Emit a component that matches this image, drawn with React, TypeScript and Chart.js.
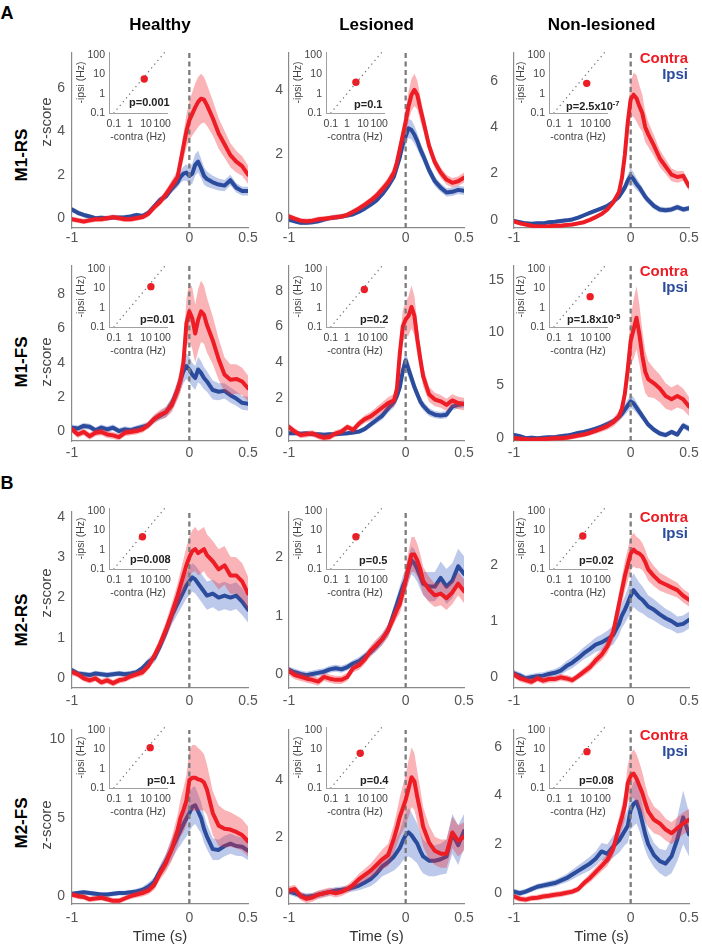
import React, { useEffect, useRef } from "react";
import { Chart, registerables } from "chart.js";

Chart.register(...registerables);
const FONT = "'Liberation Sans', Arial, Helvetica, sans-serif";
Chart.defaults.font.family = FONT;

// ---------- time axis (s) ----------
const TIME = [-1, -0.95, -0.9, -0.85, -0.8, -0.75, -0.7, -0.65, -0.6, -0.55,
  -0.5, -0.45, -0.4, -0.35, -0.3, -0.25, -0.2, -0.15, -0.1,
  -0.075, -0.05, -0.025, 0, 0.025, 0.05, 0.075, 0.1, 0.125, 0.15,
  0.2, 0.25, 0.3, 0.35, 0.4, 0.45, 0.5];

// ---------- M1-RS ----------
const H_M1RS_C = [-0.05, -0.1, -0.15, -0.1, -0.05, -0.05, 0, 0.05, 0, -0.05, -0.05, 0, 0.05, 0.2, 0.5, 0.75, 1.1, 1.5, 1.9, 2.6, 3.3, 4.0, 4.5, 4.8, 5.1, 5.35, 5.5, 5.45, 5.2, 4.6, 3.9, 3.4, 2.9, 2.6, 2.4, 2.0];
const H_M1RS_CS = [0.12, 0.12, 0.12, 0.12, 0.12, 0.12, 0.12, 0.12, 0.12, 0.12, 0.12, 0.12, 0.12, 0.14, 0.16, 0.18, 0.2, 0.25, 0.32, 0.45, 0.6, 0.75, 0.9, 1.0, 1.1, 1.15, 1.15, 1.05, 0.95, 0.8, 0.7, 0.62, 0.55, 0.5, 0.45, 0.42];
const H_M1RS_I = [0.4, 0.25, 0.15, 0.08, 0, 0.02, 0, 0.03, 0.03, 0.05, 0.08, 0.15, 0.1, 0.25, 0.55, 0.85, 1.0, 1.35, 1.65, 1.9, 2.05, 2.1, 1.95, 2.05, 2.45, 2.6, 2.3, 1.95, 1.8, 1.65, 1.55, 1.5, 1.75, 1.4, 1.25, 1.25];
const H_M1RS_IS = [0.12, 0.12, 0.1, 0.1, 0.1, 0.1, 0.1, 0.1, 0.1, 0.1, 0.1, 0.1, 0.1, 0.1, 0.12, 0.14, 0.16, 0.18, 0.22, 0.28, 0.33, 0.38, 0.42, 0.46, 0.5, 0.5, 0.45, 0.4, 0.35, 0.3, 0.28, 0.26, 0.25, 0.22, 0.2, 0.2];

const L_M1RS_C = [0.05, -0.02, -0.08, -0.1, -0.08, -0.04, -0.02, 0, 0.03, 0.05, 0.1, 0.2, 0.3, 0.42, 0.55, 0.7, 0.9, 1.12, 1.42, 1.74, 2.16, 2.58, 3.0, 3.5, 3.85, 4.0, 3.84, 3.42, 3.05, 2.26, 1.74, 1.42, 1.2, 1.1, 1.15, 1.26];
const L_M1RS_CS = [0.08, 0.08, 0.08, 0.08, 0.08, 0.08, 0.08, 0.08, 0.08, 0.08, 0.08, 0.08, 0.09, 0.1, 0.1, 0.12, 0.13, 0.15, 0.18, 0.22, 0.27, 0.32, 0.38, 0.45, 0.5, 0.5, 0.45, 0.38, 0.32, 0.22, 0.18, 0.16, 0.15, 0.15, 0.15, 0.16];
const L_M1RS_I = [-0.05, -0.1, -0.15, -0.15, -0.13, -0.1, -0.05, 0, 0.02, 0.05, 0.08, 0.12, 0.2, 0.3, 0.42, 0.55, 0.75, 1.0, 1.3, 1.6, 1.9, 2.3, 2.55, 2.8, 2.75, 2.6, 2.4, 2.15, 1.95, 1.5, 1.15, 0.95, 0.8, 0.82, 0.88, 0.85];
const L_M1RS_IS = [0.07, 0.07, 0.07, 0.07, 0.07, 0.07, 0.07, 0.07, 0.07, 0.07, 0.07, 0.07, 0.07, 0.08, 0.08, 0.09, 0.1, 0.12, 0.14, 0.17, 0.2, 0.24, 0.28, 0.3, 0.3, 0.28, 0.25, 0.22, 0.2, 0.17, 0.15, 0.14, 0.13, 0.13, 0.13, 0.13];

const N_M1RS_C = [-0.07, -0.15, -0.2, -0.25, -0.28, -0.28, -0.27, -0.25, -0.25, -0.22, -0.2, -0.15, -0.1, 0, 0.12, 0.25, 0.45, 0.75, 1.2, 1.8, 2.8, 4.2, 5.2, 5.4, 5.25, 4.9, 4.6, 4.0, 3.7, 3.2, 2.65, 2.3, 1.95, 1.85, 1.9, 1.45];
const N_M1RS_CS = [0.08, 0.08, 0.08, 0.08, 0.08, 0.08, 0.08, 0.08, 0.08, 0.08, 0.08, 0.08, 0.08, 0.08, 0.08, 0.09, 0.1, 0.12, 0.15, 0.2, 0.3, 0.5, 0.75, 0.95, 1.0, 0.9, 0.8, 0.65, 0.55, 0.45, 0.38, 0.32, 0.28, 0.25, 0.22, 0.2];
const N_M1RS_I = [-0.05, -0.1, -0.15, -0.17, -0.15, -0.15, -0.1, -0.08, -0.05, -0.02, 0.02, 0.1, 0.2, 0.3, 0.4, 0.5, 0.6, 0.78, 1.0, 1.2, 1.4, 1.7, 1.9, 1.75, 1.55, 1.4, 1.2, 1.0, 0.85, 0.6, 0.45, 0.42, 0.45, 0.55, 0.45, 0.5];
const N_M1RS_IS = [0.08, 0.08, 0.08, 0.08, 0.08, 0.08, 0.08, 0.08, 0.08, 0.08, 0.08, 0.08, 0.08, 0.08, 0.08, 0.08, 0.09, 0.1, 0.12, 0.15, 0.2, 0.26, 0.32, 0.3, 0.26, 0.22, 0.2, 0.18, 0.16, 0.14, 0.13, 0.12, 0.12, 0.12, 0.12, 0.12];

// ---------- M1-FS ----------
const H_M1FS_C = [0.1, -0.2, -0.05, -0.3, -0.1, -0.05, -0.2, -0.25, -0.35, -0.1, -0.05, 0, 0.1, 0.35, 0.7, 0.95, 1.1, 1.5, 2.4, 3.0, 4.0, 6.3, 7.0, 6.6, 5.7, 6.5, 7.0, 6.8, 6.2, 5.3, 4.2, 3.3, 3.0, 3.05, 2.9, 2.5];
const H_M1FS_CS = [0.2, 0.2, 0.2, 0.2, 0.2, 0.2, 0.2, 0.2, 0.2, 0.2, 0.2, 0.2, 0.2, 0.22, 0.25, 0.28, 0.32, 0.4, 0.55, 0.75, 1.0, 1.4, 1.7, 1.8, 1.7, 1.8, 1.8, 1.7, 1.6, 1.4, 1.2, 1.0, 0.9, 0.85, 0.8, 0.75];
const H_M1FS_I = [0.2, 0.15, 0.3, 0.25, 0.05, 0.2, 0.1, 0.2, 0, 0.1, 0.05, 0.15, 0.25, 0.35, 0.7, 0.9, 1.1, 1.6, 2.4, 3.0, 3.5, 3.8, 3.6, 3.3, 3.1, 3.6, 3.4, 3.1, 2.9, 2.4, 2.3, 2.35, 2.1, 1.9, 1.65, 1.6];
const H_M1FS_IS = [0.18, 0.18, 0.18, 0.18, 0.18, 0.18, 0.18, 0.18, 0.18, 0.18, 0.18, 0.18, 0.18, 0.2, 0.22, 0.25, 0.3, 0.38, 0.5, 0.6, 0.7, 0.75, 0.75, 0.7, 0.7, 0.75, 0.7, 0.65, 0.6, 0.55, 0.5, 0.45, 0.45, 0.42, 0.4, 0.4];

const L_M1FS_C = [0.35, 0.1, -0.1, -0.05, 0, -0.15, -0.25, -0.2, 0, 0.1, 0.35, 0.2, 0.55, 0.8, 0.95, 1.2, 1.45, 1.7, 1.85, 2.5, 4.5, 6.0, 6.4, 6.6, 7.1, 6.6, 5.3, 4.2, 3.2, 2.2, 1.9, 1.8, 1.6, 1.85, 1.7, 1.65];
const L_M1FS_CS = [0.2, 0.18, 0.18, 0.18, 0.18, 0.18, 0.18, 0.18, 0.18, 0.18, 0.18, 0.18, 0.2, 0.22, 0.25, 0.28, 0.3, 0.33, 0.36, 0.45, 0.7, 0.9, 1.0, 1.1, 1.2, 1.1, 0.9, 0.7, 0.55, 0.42, 0.38, 0.36, 0.35, 0.35, 0.35, 0.35];
const L_M1FS_I = [0, 0.02, -0.02, 0, -0.05, -0.05, -0.08, -0.05, -0.05, -0.02, 0, 0.05, 0.1, 0.25, 0.5, 0.75, 1.0, 1.4, 1.75, 2.1, 2.6, 3.5, 4.1, 3.6, 3.1, 2.6, 2.2, 1.8, 1.55, 1.2, 1.05, 1.0, 1.05, 1.5, 1.6, 1.65];
const L_M1FS_IS = [0.12, 0.12, 0.12, 0.12, 0.12, 0.12, 0.12, 0.12, 0.12, 0.12, 0.12, 0.12, 0.13, 0.15, 0.17, 0.2, 0.22, 0.25, 0.28, 0.32, 0.38, 0.45, 0.5, 0.45, 0.4, 0.35, 0.3, 0.28, 0.25, 0.22, 0.2, 0.2, 0.2, 0.2, 0.2, 0.2];

const N_M1FS_C = [0, -0.05, -0.1, -0.15, -0.1, -0.1, -0.05, 0, 0, 0.05, 0.15, 0.25, 0.35, 0.5, 0.7, 0.9, 1.15, 1.5, 2.1, 2.8, 4.2, 6.5, 9.2, 10.3, 11.4, 9.8, 7.8, 6.3, 5.6, 5.2, 4.7, 4.0, 3.7, 4.0, 3.7, 3.0];
const N_M1FS_CS = [0.25, 0.25, 0.25, 0.25, 0.25, 0.25, 0.25, 0.25, 0.25, 0.25, 0.25, 0.25, 0.25, 0.25, 0.28, 0.3, 0.35, 0.4, 0.5, 0.7, 1.0, 1.5, 2.2, 2.8, 3.0, 2.8, 2.4, 2.0, 1.7, 1.4, 1.3, 1.2, 1.1, 1.1, 1.0, 0.9];
const N_M1FS_I = [0.3, 0.2, 0, 0.05, 0, 0.05, 0.1, 0.1, 0.2, 0.25, 0.35, 0.5, 0.6, 0.75, 0.9, 1.1, 1.35, 1.6, 2.0, 2.3, 2.7, 3.1, 3.5, 3.3, 2.9, 2.5, 2.1, 1.7, 1.3, 0.8, 0.45, 0.3, 0.6, 0.35, 1.2, 0.9];
const N_M1FS_IS = [0.2, 0.2, 0.2, 0.2, 0.2, 0.2, 0.2, 0.2, 0.2, 0.2, 0.2, 0.2, 0.2, 0.2, 0.22, 0.24, 0.26, 0.3, 0.35, 0.4, 0.5, 0.6, 0.65, 0.6, 0.5, 0.45, 0.4, 0.35, 0.3, 0.25, 0.25, 0.25, 0.25, 0.25, 0.3, 0.3];

// ---------- M2-RS ----------
const H_M2RS_C = [0.15, 0.1, 0, -0.05, 0, -0.1, -0.05, -0.12, -0.05, -0.02, 0.05, 0.1, 0.15, 0.3, 0.55, 0.85, 1.2, 1.6, 2.05, 2.3, 2.55, 2.8, 3.0, 3.15, 3.2, 3.1, 3.15, 3.2, 3.05, 2.9, 2.7, 2.8, 2.55, 2.55, 2.4, 2.1];
const H_M2RS_CS = [0.08, 0.08, 0.08, 0.08, 0.08, 0.08, 0.08, 0.08, 0.08, 0.08, 0.08, 0.08, 0.09, 0.1, 0.12, 0.15, 0.2, 0.25, 0.3, 0.35, 0.4, 0.45, 0.5, 0.52, 0.55, 0.55, 0.55, 0.55, 0.52, 0.5, 0.5, 0.48, 0.46, 0.45, 0.45, 0.42];
const H_M2RS_I = [0.2, 0.12, 0.1, 0.08, 0.12, 0.1, 0.08, 0.1, 0.12, 0.1, 0.12, 0.15, 0.25, 0.4, 0.5, 0.8, 1.15, 1.55, 1.85, 2.0, 2.15, 2.3, 2.4, 2.5, 2.45, 2.35, 2.25, 2.15, 2.05, 2.1, 2.0, 2.05, 2.0, 2.05, 1.9, 1.7];
const H_M2RS_IS = [0.07, 0.07, 0.07, 0.07, 0.07, 0.07, 0.07, 0.07, 0.07, 0.07, 0.07, 0.07, 0.08, 0.1, 0.12, 0.15, 0.18, 0.22, 0.26, 0.28, 0.3, 0.32, 0.34, 0.35, 0.35, 0.35, 0.35, 0.35, 0.35, 0.34, 0.34, 0.34, 0.33, 0.33, 0.33, 0.32];

const L_M2RS_C = [0.05, -0.02, -0.05, -0.08, -0.1, -0.13, -0.05, -0.08, -0.1, -0.1, -0.05, 0.1, 0.15, 0.25, 0.4, 0.5, 0.6, 0.75, 0.98, 1.1, 1.2, 1.4, 1.6, 1.85, 2.05, 2.05, 1.95, 1.8, 1.6, 1.45, 1.35, 1.38, 1.3, 1.4, 1.55, 1.42];
const L_M2RS_CS = [0.07, 0.07, 0.07, 0.07, 0.07, 0.07, 0.07, 0.07, 0.07, 0.07, 0.07, 0.07, 0.08, 0.08, 0.09, 0.1, 0.1, 0.11, 0.12, 0.14, 0.16, 0.18, 0.22, 0.26, 0.3, 0.3, 0.28, 0.26, 0.24, 0.22, 0.2, 0.2, 0.2, 0.2, 0.2, 0.2];
const L_M2RS_I = [0.07, 0.03, 0, -0.02, 0, 0.02, 0.04, 0.08, 0.1, 0.08, 0.12, 0.18, 0.22, 0.3, 0.38, 0.48, 0.6, 0.75, 1.05, 1.2, 1.35, 1.5, 1.62, 1.8, 1.95, 1.9, 1.8, 1.68, 1.55, 1.5, 1.5, 1.65, 1.5, 1.6, 1.85, 1.72];
const L_M2RS_IS = [0.06, 0.06, 0.06, 0.06, 0.06, 0.06, 0.06, 0.06, 0.06, 0.06, 0.06, 0.06, 0.07, 0.07, 0.08, 0.09, 0.1, 0.11, 0.12, 0.14, 0.16, 0.18, 0.2, 0.22, 0.24, 0.24, 0.22, 0.22, 0.2, 0.25, 0.25, 0.28, 0.3, 0.3, 0.3, 0.3];

const N_M2RS_C = [0.05, -0.02, -0.05, -0.08, -0.02, -0.06, -0.03, -0.03, 0, -0.02, -0.05, 0.02, 0.1, 0.18, 0.3, 0.4, 0.55, 0.8, 1.3, 1.55, 1.8, 2.0, 2.2, 2.27, 2.22, 2.2, 2.15, 2.05, 1.92, 1.8, 1.7, 1.65, 1.6, 1.55, 1.45, 1.38];
const N_M2RS_CS = [0.06, 0.06, 0.06, 0.06, 0.06, 0.06, 0.06, 0.06, 0.06, 0.06, 0.06, 0.06, 0.07, 0.08, 0.09, 0.1, 0.12, 0.15, 0.2, 0.23, 0.26, 0.28, 0.3, 0.3, 0.28, 0.26, 0.24, 0.22, 0.2, 0.18, 0.16, 0.15, 0.14, 0.13, 0.12, 0.12];
const N_M2RS_I = [0.07, 0.03, -0.02, 0, 0.02, 0.03, 0.06, 0.08, 0.12, 0.2, 0.26, 0.34, 0.43, 0.5, 0.58, 0.62, 0.68, 0.75, 0.95, 1.1, 1.2, 1.32, 1.45, 1.55, 1.48, 1.42, 1.38, 1.32, 1.26, 1.2, 1.12, 1.05, 1.0, 0.93, 0.95, 1.02];
const N_M2RS_IS = [0.06, 0.06, 0.06, 0.06, 0.06, 0.06, 0.06, 0.07, 0.08, 0.09, 0.1, 0.1, 0.11, 0.12, 0.13, 0.14, 0.15, 0.17, 0.2, 0.22, 0.24, 0.27, 0.3, 0.3, 0.28, 0.26, 0.24, 0.22, 0.2, 0.19, 0.18, 0.17, 0.16, 0.15, 0.15, 0.15];

// ---------- M2-FS ----------
const H_M2FS_C = [0.1, 0, -0.05, -0.2, -0.15, -0.1, -0.2, -0.3, -0.3, -0.15, 0, 0.1, 0.2, 0.35, 0.7, 1.45, 2.1, 3.0, 4.2, 5.0, 5.5, 6.1, 7.4, 7.55, 7.55, 7.45, 7.4, 7.25, 6.8, 5.3, 4.5, 4.3, 4.25, 4.1, 3.9, 3.5];
const H_M2FS_CS = [0.18, 0.18, 0.18, 0.18, 0.18, 0.18, 0.18, 0.18, 0.18, 0.18, 0.18, 0.2, 0.22, 0.25, 0.3, 0.4, 0.55, 0.75, 1.0, 1.2, 1.4, 1.6, 1.9, 2.1, 2.1, 2.0, 1.9, 1.8, 1.6, 1.4, 1.3, 1.2, 1.1, 1.05, 1.0, 0.95];
const H_M2FS_I = [0.15, 0.2, 0.25, 0.2, 0.15, 0.1, 0.1, 0.15, 0.2, 0.2, 0.25, 0.3, 0.4, 0.6, 0.9, 1.6, 2.2, 3.0, 3.8, 4.2, 4.6, 4.95, 5.3, 5.7, 5.8, 5.4, 5.0, 4.3, 3.8, 3.0, 2.95, 3.2, 3.35, 3.2, 3.15, 2.9];
const H_M2FS_IS = [0.15, 0.15, 0.15, 0.15, 0.15, 0.15, 0.15, 0.15, 0.15, 0.15, 0.15, 0.17, 0.2, 0.25, 0.3, 0.38, 0.5, 0.65, 0.8, 0.95, 1.05, 1.15, 1.2, 1.25, 1.2, 1.1, 1.0, 0.9, 0.8, 0.7, 0.65, 0.65, 0.65, 0.62, 0.6, 0.6];

const L_M2FS_C = [0.1, 0.15, -0.1, -0.2, -0.15, -0.05, 0, 0.05, 0, 0.05, 0.15, 0.3, 0.5, 0.65, 0.8, 1.0, 1.2, 1.35, 1.95, 2.3, 2.7, 3.0, 3.3, 3.7, 4.1, 3.95, 3.4, 2.9, 2.35, 1.8, 1.5, 1.4, 1.4, 2.15, 1.85, 2.0];
const L_M2FS_CS = [0.15, 0.15, 0.15, 0.15, 0.15, 0.15, 0.15, 0.15, 0.15, 0.15, 0.15, 0.17, 0.2, 0.22, 0.25, 0.3, 0.35, 0.4, 0.5, 0.6, 0.7, 0.8, 0.9, 1.0, 1.05, 1.0, 0.9, 0.8, 0.7, 0.6, 0.5, 0.5, 0.5, 0.55, 0.55, 0.5];
const L_M2FS_I = [0.07, 0, -0.08, -0.12, -0.1, -0.05, 0, 0.05, 0.1, 0.12, 0.15, 0.2, 0.27, 0.38, 0.5, 0.7, 0.95, 1.1, 1.3, 1.45, 1.6, 1.85, 2.05, 2.15, 2.05, 1.9, 1.75, 1.5, 1.3, 1.15, 1.15, 1.2, 1.3, 2.1, 1.7, 2.2];
const L_M2FS_IS = [0.12, 0.12, 0.12, 0.12, 0.12, 0.12, 0.12, 0.12, 0.12, 0.12, 0.12, 0.14, 0.16, 0.2, 0.25, 0.3, 0.35, 0.4, 0.5, 0.55, 0.6, 0.7, 0.8, 0.85, 0.8, 0.75, 0.7, 0.65, 0.6, 0.55, 0.55, 0.55, 0.6, 0.7, 0.7, 0.6];

const N_M2FS_C = [-0.15, -0.25, -0.28, -0.22, -0.2, -0.15, -0.12, -0.08, -0.05, 0, 0.05, 0.15, 0.4, 0.6, 0.85, 1.1, 1.35, 1.8, 2.7, 3.1, 3.6, 4.5, 4.8, 4.9, 4.7, 4.4, 4.1, 3.7, 3.35, 3.0, 2.85, 2.6, 2.45, 2.65, 2.85, 3.0];
const N_M2FS_CS = [0.12, 0.12, 0.12, 0.12, 0.12, 0.12, 0.12, 0.12, 0.12, 0.12, 0.12, 0.13, 0.15, 0.18, 0.2, 0.22, 0.25, 0.3, 0.4, 0.5, 0.6, 0.75, 0.9, 1.0, 1.0, 0.95, 0.85, 0.75, 0.65, 0.55, 0.5, 0.45, 0.45, 0.45, 0.45, 0.45];
const N_M2FS_I = [0.05, -0.02, 0.05, 0.15, 0.25, 0.3, 0.35, 0.4, 0.5, 0.6, 0.75, 0.9, 1.05, 1.2, 1.4, 1.7, 1.6, 1.9, 2.15, 2.35, 2.55, 2.75, 3.4, 3.65, 3.75, 3.4, 2.9, 2.4, 2.0, 1.55, 1.3, 1.2, 1.5, 2.2, 3.1, 2.4];
const N_M2FS_IS = [0.12, 0.12, 0.12, 0.12, 0.12, 0.12, 0.13, 0.14, 0.15, 0.17, 0.2, 0.22, 0.25, 0.28, 0.3, 0.35, 0.4, 0.45, 0.5, 0.55, 0.6, 0.7, 0.8, 0.9, 0.9, 0.85, 0.75, 0.65, 0.55, 0.5, 0.5, 0.55, 0.7, 0.9, 1.1, 0.9];

// ---------- per-panel lists (row-major: M1-RS, M1-FS, M2-RS, M2-FS × Healthy, Lesioned, Non-lesioned) ----------
const CONTRA = [H_M1RS_C, L_M1RS_C, N_M1RS_C, H_M1FS_C, L_M1FS_C, N_M1FS_C, H_M2RS_C, L_M2RS_C, N_M2RS_C, H_M2FS_C, L_M2FS_C, N_M2FS_C];
const CONTRA_SEM = [H_M1RS_CS, L_M1RS_CS, N_M1RS_CS, H_M1FS_CS, L_M1FS_CS, N_M1FS_CS, H_M2RS_CS, L_M2RS_CS, N_M2RS_CS, H_M2FS_CS, L_M2FS_CS, N_M2FS_CS];
const IPSI = [H_M1RS_I, L_M1RS_I, N_M1RS_I, H_M1FS_I, L_M1FS_I, N_M1FS_I, H_M2RS_I, L_M2RS_I, N_M2RS_I, H_M2FS_I, L_M2FS_I, N_M2FS_I];
const IPSI_SEM = [H_M1RS_IS, L_M1RS_IS, N_M1RS_IS, H_M1FS_IS, L_M1FS_IS, N_M1FS_IS, H_M2RS_IS, L_M2RS_IS, N_M2RS_IS, H_M2FS_IS, L_M2FS_IS, N_M2FS_IS];

const Y_MIN = [-0.45, -0.31, -0.35, -0.58, -0.43, -0.26, -0.24, -0.24, -0.19, -0.5, -0.38, -0.46];
const Y_MAX = [7.6, 5.15, 7.2, 9.65, 9.4, 16.3, 4.12, 2.78, 2.94, 10.6, 5.77, 6.69];
const Y_TICKS = [[0, 2, 4, 6], [0, 2, 4], [0, 2, 4, 6], [0, 2, 4, 6, 8], [0, 2, 4, 6, 8], [0, 5, 10, 15],
  [0, 1, 2, 3, 4], [0, 1, 2], [0, 1, 2], [0, 5, 10], [0, 2, 4], [0, 2, 4, 6]];
const X_TICKS = [-1, 0, 0.5];

// inset: mean firing rate contra vs ipsi (Hz)
const INSET_CONTRA = [7.7, 3.6, 11, 20, 12, 18, 6, 3.6, 6.3, 18, 6.7, 11.4];
const INSET_IPSI = [5.9, 4.0, 3.5, 12.6, 9, 3.8, 4.8, 4.8, 5.2, 12.6, 6.4, 7.8];
const INSET_TICKS = [0.1, 1, 10, 100];
const INSET_X_RANGE = [0.05, 200];
const INSET_Y_RANGE = [0.1, 150];
const P_TEXT = ["p=0.001", "p=0.1", "p=2.5x10", "p=0.01", "p=0.2", "p=1.8x10", "p=0.008", "p=0.5", "p=0.02", "p=0.1", "p=0.4", "p=0.08"];
const P_EXP = ["", "", "-7", "", "", "-5", "", "", "", "", "", ""];

const COLUMN_TITLES = ["Healthy", "Lesioned", "Non-lesioned"];
const ROW_TITLES = ["M1-RS", "M1-FS", "M2-RS", "M2-FS"];

// ---------- styling / layout ----------
const RED = "#ee1d25";
const RED_BAND = "rgba(240, 45, 55, 0.36)";
const BLUE = "#2b4c9c";
const BLUE_BAND = "rgba(55, 90, 190, 0.33)";
const AXIS = "#8a8a8a";
const TICK = "#555555";

const COL_LEFT = [72, 289, 514];
const COL_RIGHT = [248, 464, 689];
const ROW_TOP = [53, 266, 512, 730];
const ROW_BOTTOM = [228, 441, 688, 904];
const X_LABEL_PAD = [1.5, 3.5, 4.5, 6];
const Y_LABEL_PAD = [[7, 6, 16], [7, 6, 10], [7, 6, 16], [7, 6, 12]];
const INSET_LEFT = [109, 326, 549];
const INSET_TOP = [52, 266, 508, 727];
const INSET_W = 58;
const INSET_H = 61;
const P_LEFT = [129, 354, 566, 140, 360, 567, 130, 359, 579, 147, 360, 579];
const P_Y = [102, 104, 106, 319, 319, 319, 559, 560, 560, 780, 780, 780];
const ROW_LABEL_Y = [155, 362, 620, 823];
const ZSCORE_Y = [122, 362, 593, 825];

function zeroPad(s: any) {
  s.paddingLeft = 0; s.paddingRight = 0; s.paddingTop = 0; s.paddingBottom = 0;
}

function MainPanel({ idx }: { idx: number }) {
  const ref = useRef<HTMLCanvasElement>(null);
  const r = Math.floor(idx / 3), c = idx % 3;
  const left = COL_LEFT[c], top = ROW_TOP[r];
  const w = COL_RIGHT[c] - left, h = ROW_BOTTOM[r] - top;
  const PL = 40, PT = 10, PR = 14, PB = 30;
  const W = PL + w + PR, H = PT + h + PB;

  useEffect(() => {
    const line = (m: number[]) => TIME.map((t, i) => ({ x: t, y: m[i] }));
    const band = (m: number[], s: number[], k: number) => TIME.map((t, i) => ({ x: t, y: m[i] + k * s[i] }));
    const clear = "rgba(0,0,0,0)";
    const chart = new Chart(ref.current as HTMLCanvasElement, {
      type: "line",
      data: {
        datasets: [
          { data: band(IPSI[idx], IPSI_SEM[idx], -1), borderColor: clear, borderWidth: 1, pointRadius: 0, fill: false, order: 7 },
          { data: band(IPSI[idx], IPSI_SEM[idx], 1), borderColor: clear, borderWidth: 1, pointRadius: 0, fill: "-1", backgroundColor: BLUE_BAND, order: 6 },
          { data: line(IPSI[idx]), borderColor: BLUE, borderWidth: 4, pointRadius: 0, fill: false, order: 5, borderJoinStyle: "round", borderCapStyle: "round" },
          { data: band(CONTRA[idx], CONTRA_SEM[idx], -1), borderColor: clear, borderWidth: 1, pointRadius: 0, fill: false, order: 4 },
          { data: band(CONTRA[idx], CONTRA_SEM[idx], 1), borderColor: clear, borderWidth: 1, pointRadius: 0, fill: "-1", backgroundColor: RED_BAND, order: 3 },
          { data: [{ x: 0, y: Y_MIN[idx] }, { x: 0, y: Y_MAX[idx] }], borderColor: "#7c7c7c", borderWidth: 2.3, borderDash: [5, 3.5], pointRadius: 0, fill: false, order: 2 },
          { data: line(CONTRA[idx]), borderColor: RED, borderWidth: 4, pointRadius: 0, fill: false, order: 1, borderJoinStyle: "round", borderCapStyle: "round" },
        ] as any,
      },
      options: {
        responsive: false,
        animation: false,
        events: [],
        layout: { padding: { left: 0, top: PT, right: PR, bottom: 0 } },
        plugins: { legend: { display: false }, tooltip: { enabled: false } },
        elements: { line: { tension: 0 } },
        scales: {
          x: {
            type: "linear", min: -1, max: 0.5,
            afterBuildTicks: (s: any) => { s.ticks = X_TICKS.map((v) => ({ value: v })); },
            afterFit: (s: any) => { s.height = PB; zeroPad(s); },
            grid: { display: false, drawTicks: false },
            border: { display: true, color: AXIS, width: 1.2 },
            ticks: { color: TICK, font: { size: 14 }, padding: X_LABEL_PAD[r], autoSkip: false, maxRotation: 0, callback: (v: any) => String(v) },
          },
          y: {
            type: "linear", min: Y_MIN[idx], max: Y_MAX[idx],
            afterBuildTicks: (s: any) => { s.ticks = Y_TICKS[idx].map((v) => ({ value: v })); },
            afterFit: (s: any) => { s.width = PL; zeroPad(s); },
            grid: { display: false, drawTicks: false },
            border: { display: true, color: AXIS, width: 1.2 },
            ticks: { color: TICK, font: { size: 14 }, padding: Y_LABEL_PAD[r][c], autoSkip: false, callback: (v: any) => String(v) },
          },
        },
      } as any,
    });
    return () => chart.destroy();
  }, [idx]);

  return (
    <canvas ref={ref} width={W} height={H}
      style={{ position: "absolute", left: left - PL, top: top - PT, width: W, height: H }} />
  );
}

function InsetPanel({ idx }: { idx: number }) {
  const ref = useRef<HTMLCanvasElement>(null);
  const r = Math.floor(idx / 3), c = idx % 3;
  const left = INSET_LEFT[c], top = INSET_TOP[r];
  const PL = 34, PT = 6, PR = 12, PB = 30;
  const W = PL + INSET_W + PR, H = PT + INSET_H + PB;

  useEffect(() => {
    const chart = new Chart(ref.current as HTMLCanvasElement, {
      type: "line",
      data: {
        datasets: [
          { data: [{ x: 0.01, y: 0.01 }, { x: 1000, y: 1000 }], borderColor: "#6a6a6a", borderWidth: 1.1, borderDash: [1.3, 3.6], pointRadius: 0, fill: false },
          { data: [{ x: INSET_CONTRA[idx], y: INSET_IPSI[idx] }], showLine: false, pointRadius: 3.7, pointBackgroundColor: RED, pointBorderColor: RED, pointBorderWidth: 0 },
        ] as any,
      },
      options: {
        responsive: false,
        animation: false,
        events: [],
        layout: { padding: { left: 0, top: PT, right: PR, bottom: 0 } },
        plugins: { legend: { display: false }, tooltip: { enabled: false } },
        scales: {
          x: {
            type: "logarithmic", min: INSET_X_RANGE[0], max: INSET_X_RANGE[1],
            afterBuildTicks: (s: any) => { s.ticks = INSET_TICKS.map((v) => ({ value: v })); },
            afterFit: (s: any) => { s.height = PB; zeroPad(s); },
            grid: { display: false, drawTicks: false },
            border: { display: true, color: "#a0a0a0", width: 1 },
            ticks: { color: "#444", font: { size: 10.5 }, padding: 5, autoSkip: false, maxRotation: 0, callback: (v: any) => String(v) },
            title: { display: true, text: "-contra (Hz)", color: "#444", font: { size: 10.5 }, padding: { top: 0, bottom: 0 } },
          },
          y: {
            type: "logarithmic", min: INSET_Y_RANGE[0], max: INSET_Y_RANGE[1],
            afterBuildTicks: (s: any) => { s.ticks = INSET_TICKS.map((v) => ({ value: v })); },
            afterFit: (s: any) => { s.width = PL; zeroPad(s); },
            grid: { display: false, drawTicks: false },
            border: { display: true, color: "#a0a0a0", width: 1 },
            ticks: { color: "#444", font: { size: 10.5 }, padding: 4, autoSkip: false, callback: (v: any) => String(v) },
            title: { display: true, text: "-ipsi (Hz)", color: "#444", font: { size: 10.5 }, padding: { top: 0, bottom: 0 } },
          },
        },
      } as any,
    });
    return () => chart.destroy();
  }, [idx]);

  return (
    <canvas ref={ref} width={W} height={H}
      style={{ position: "absolute", left: left - PL, top: top - PT, width: W, height: H }} />
  );
}

type TxtProps = { x: number; y: number; size: number; bold?: boolean; color?: string; anchor?: "c" | "l" | "r"; rot?: boolean; children: any };
function Txt({ x, y, size, bold, color = "#000", anchor = "c", rot, children }: TxtProps) {
  const tx = anchor === "c" ? "-50%" : anchor === "r" ? "-100%" : "0";
  return (
    <div style={{
      position: "absolute", left: x, top: y, transform: `translate(${tx}, -50%)${rot ? " rotate(-90deg)" : ""}`,
      whiteSpace: "nowrap", fontFamily: FONT, fontSize: size, fontWeight: bold ? 700 : 400, color, lineHeight: 1,
    }}>{children}</div>
  );
}

export default function App() {
  const idxs = Array.from({ length: 12 }, (_, i) => i);
  return (
    <div style={{ position: "absolute", left: 0, top: 0, width: 702, height: 944, overflow: "hidden", background: "#fff" }}>
      {idxs.map((i) => <MainPanel key={"m" + i} idx={i} />)}
      {idxs.map((i) => <InsetPanel key={"i" + i} idx={i} />)}

      <Txt x={7} y={13} size={18} bold>A</Txt>
      <Txt x={7} y={483} size={18} bold>B</Txt>

      {COLUMN_TITLES.map((t, c) => (
        <Txt key={t} x={(COL_LEFT[c] + COL_RIGHT[c]) / 2} y={24} size={17} bold>{t}</Txt>
      ))}

      {ROW_TITLES.map((t, r) => (
        <React.Fragment key={t}>
          <Txt x={21} y={ROW_LABEL_Y[r]} size={17} bold rot>{t}</Txt>
          <Txt x={45} y={ZSCORE_Y[r]} size={15} color="#444" rot>z-score</Txt>
          <Txt x={688} y={ROW_TOP[r] + 4} size={15} bold color={RED} anchor="r">Contra</Txt>
          <Txt x={688} y={ROW_TOP[r] + 20} size={15} bold color={BLUE} anchor="r">Ipsi</Txt>
        </React.Fragment>
      ))}

      {COL_LEFT.map((l, c) => (
        <Txt key={"t" + c} x={(l + COL_RIGHT[c]) / 2} y={935} size={15} color="#333">Time (s)</Txt>
      ))}

      {idxs.map((i) => (
        <Txt key={"p" + i} x={P_LEFT[i]} y={P_Y[i]} size={11} bold color="#222" anchor="l">
          {P_TEXT[i]}
          {P_EXP[i] ? <span style={{ fontSize: 7.5, position: "relative", top: -4 }}>{P_EXP[i]}</span> : null}
        </Txt>
      ))}
    </div>
  );
}
